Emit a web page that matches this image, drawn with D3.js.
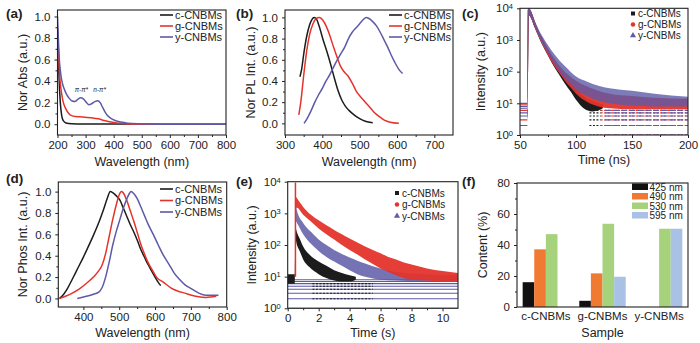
<!DOCTYPE html>
<html><head><meta charset="utf-8">
<script src="https://cdn.jsdelivr.net/npm/d3@7"></script>
<style>
body{margin:0;background:#fff;}
svg{display:block;}
</style></head><body>
<svg id="chart" width="700" height="343"></svg>
<script>
// ================= DATA =================
const seriesNames = ["c-CNBMs", "g-CNBMs", "y-CNBMs"];

// (a) absorbance  [wavelength nm, normalized abs]
const absC = [[200,0.86],[203,0.62],[206,0.4],[210,0.2],[215,0.08],[220,0.035],[230,0.012],[250,0.005],[300,0.003],[400,0.002],[800,0.0]];
const absG = [[200,0.9],[203,0.7],[206,0.52],[210,0.38],[215,0.28],[220,0.21],[230,0.14],[240,0.1],[250,0.08],[265,0.072],[290,0.068],[320,0.06],[345,0.05],[365,0.035],[385,0.022],[410,0.012],[440,0.005],[480,0.0],[800,0.0]];
const absY = [[200,1.0],[203,0.8],[206,0.62],[210,0.5],[215,0.41],[222,0.34],[232,0.28],[242,0.24],[252,0.215],[262,0.21],[272,0.23],[282,0.245],[292,0.235],[302,0.205],[312,0.18],[322,0.19],[333,0.21],[343,0.218],[352,0.2],[360,0.16],[368,0.12],[378,0.08],[390,0.055],[405,0.035],[425,0.02],[450,0.01],[500,0.004],[560,0.0],[800,0.0]];
const absNotes = [[285,"π-π*"],[350,"n-π*"]];

// (b) PL  [wavelength nm, normalized PL]
const plC = [[340,0.44],[345,0.52],[350,0.65],[358,0.82],[366,0.93],[372,0.98],[378,1.0],[385,0.98],[393,0.9],[402,0.79],[412,0.68],[422,0.56],[432,0.43],[442,0.31],[452,0.22],[462,0.16],[472,0.12],[485,0.08],[500,0.045],[515,0.02],[535,0.005]];
const plG = [[337,0.08],[343,0.22],[350,0.45],[358,0.68],[366,0.84],[375,0.94],[384,0.99],[392,1.0],[400,0.98],[410,0.92],[420,0.83],[430,0.72],[440,0.62],[450,0.53],[460,0.48],[470,0.44],[480,0.38],[490,0.31],[500,0.26],[510,0.22],[520,0.18],[530,0.14],[540,0.1],[552,0.065],[566,0.03],[582,0.01],[605,0.0]];
const plY = [[351,0.0],[360,0.05],[370,0.12],[380,0.2],[390,0.27],[400,0.33],[410,0.4],[420,0.46],[430,0.53],[440,0.6],[450,0.66],[460,0.72],[470,0.8],[480,0.86],[490,0.9],[500,0.94],[510,0.98],[517,1.0],[525,0.99],[535,0.96],[545,0.92],[555,0.86],[565,0.79],[575,0.72],[585,0.64],[595,0.57],[605,0.51],[615,0.47]];

// (c) TRPL decay clouds  [time ns, lower, upper]
const trC = [[56.6,3,10],[57,6,9000],[58,6000,10000],[60,4800,7800],[63,2500,4000],[66,1400,2200],[70,700,1100],[75,320,500],[80,150,240],[85,80,130],[90,42,72],[95,24,44],[100,13,28],[105,8,19],[110,6,14],[115,5.5,12],[120,6,10.5],[124,7,9]];
const trG = [[56.6,3,10],[57,6,9000],[58,6000,10000],[60,4800,7800],[63,2500,4000],[66,1400,2200],[70,700,1150],[75,330,540],[80,160,280],[85,90,160],[90,52,100],[95,32,70],[100,20,52],[110,11,34],[120,8,25],[130,7,20],[150,6.5,17],[170,6.5,15],[200,6.5,14]];
const trY = [[56.6,3,10],[57,6,9000],[58,6000,10000],[60,4800,8000],[63,2600,4200],[66,1500,2400],[70,750,1300],[75,380,680],[80,190,380],[85,105,230],[90,62,150],[95,40,100],[100,27,70],[110,17,48],[120,12,36],[130,10,30],[140,9,27],[150,8.5,25],[170,8,20],[200,8,16]];
const trPreLevels = [2,3,4,5,6,7,8,9,10];
const trLevels = [1,2,3,4,5,6];
const trLevelStart = [112,122,126];   // time where each series settles on count levels

// (d) phosphorescence  [wavelength nm, normalized]
const phC = [[333,0.0],[345,0.04],[355,0.09],[369,0.18],[384,0.28],[399,0.38],[413,0.48],[428,0.59],[443,0.71],[457,0.84],[467,0.94],[475,1.0],[482,0.99],[492,0.96],[502,0.92],[511,0.85],[521,0.77],[531,0.69],[541,0.62],[551,0.54],[560,0.46],[570,0.39],[580,0.32],[590,0.26],[600,0.2],[609,0.15],[616,0.12]];
const phG = [[333,0.0],[350,0.02],[369,0.05],[389,0.09],[408,0.14],[428,0.2],[443,0.26],[452,0.31],[462,0.42],[472,0.58],[482,0.74],[492,0.88],[500,0.97],[506,1.0],[513,0.98],[521,0.92],[531,0.82],[541,0.72],[551,0.61],[560,0.51],[570,0.42],[580,0.34],[590,0.28],[604,0.2],[624,0.15],[644,0.1],[663,0.07],[683,0.05],[702,0.03],[722,0.015],[742,0.01],[771,0.02]];
const phY = [[383,0.0],[408,0.02],[428,0.04],[443,0.06],[452,0.1],[462,0.2],[472,0.34],[482,0.5],[492,0.63],[502,0.74],[511,0.84],[521,0.93],[528,0.98],[533,1.0],[541,0.98],[551,0.93],[560,0.86],[570,0.78],[580,0.7],[595,0.6],[609,0.5],[624,0.4],[639,0.32],[653,0.24],[668,0.18],[683,0.13],[702,0.09],[722,0.05],[742,0.03],[777,0.03]];

// (e) phosphorescence decay clouds [time s, lower, upper]
const pdC = [[0,6,12],[0.45,6,12],[0.5,150,350],[0.6,100,250],[0.8,60,150],[1.0,35,90],[1.4,20,50],[2,12,30],[2.5,9,22],[3,7.5,16],[3.5,7,13],[4,7,11],[4.4,8,10]];
const pdG = [[0.5,1500,3500],[0.6,1500,3000],[1.0,900,1600],[1.5,550,900],[2,330,600],[2.5,220,420],[3,150,300],[3.5,100,220],[4,70,160],[4.5,50,120],[5,35,90],[5.5,25,70],[6,18,55],[6.5,14,42],[7,11,35],[7.5,9,28],[8,8,24],[9,7.5,18],[10,7,15],[11,7,13]];
const pdY = [[0.5,600,2000],[0.6,500,1200],[1.0,220,500],[1.5,110,260],[2,65,150],[2.5,42,100],[3,30,70],[3.5,22,52],[4,16,40],[4.5,12,32],[5,10,26],[6,8,18],[7,7.5,14],[9,7,12],[11,7,11]];
const pdSpike = [[0.5,10],[0.5,9500]];
const pdLevels = [1,2,3,4,5,6,7,8];
const pdBlackLevels = [2,3,4,5,6];
const pdBlackRange = [1.6,5.5];

// (f) content bars
const samples = ["c-CNBMs","g-CNBMs","y-CNBMs"];
const bands = ["425 nm","490 nm","530 nm","595 nm"];
const content425 = [16, 4, 0];
const content490 = [37.2, 21.7, 0];
const content530 = [47, 53.7, 50.5];
const content595 = [0, 19.5, 50.5];

// tick values
const ticksA_x = [200,300,400,500,600,700,800];
const ticksLin_y = [0,0.2,0.4,0.6,0.8,1.0];
const ticksB_x = [300,400,500,600,700];
const ticksC_x = [50,100,150,200];
const ticksLog = [1,10,100,1000,10000];
const ticksD_x = [400,500,600,700,800];
const ticksE_x = [0,2,4,6,8,10];
const ticksF_y = [0,20,40,60,80];

// ================= DRAWING =================
const svg = d3.select("#chart");
const FONT = '"Liberation Sans", Arial, Helvetica, sans-serif';
const COL = ["#1c1c1c", "#e3342c", "#5d5aa6"];
const BARCOL = ["#111111", "#f07a32", "#a7d27c", "#a9c1e4"];
const INK = "#222";
const TICKFS = 11.5;
let clipId = 0;

function styleAxis(s, fs) {
  s.select(".domain").remove();
  s.selectAll("text").attr("font-family", FONT).attr("font-size", fs).attr("fill", INK);
  s.selectAll("line").attr("stroke", INK);
}
function minorOf(ticks) {
  const out = [];
  for (let i = 0; i < ticks.length - 1; i++) out.push((ticks[i] + ticks[i + 1]) / 2);
  return out;
}
function clipFor(x, y) {
  const id = "clip" + (clipId++);
  const [xl, xr] = x.range(), [yb, yt] = y.range();
  svg.append("clipPath").attr("id", id).append("rect")
    .attr("x", xl).attr("y", yt).attr("width", xr - xl).attr("height", yb - yt);
  return "url(#" + id + ")";
}
function axes(p) {
  const g = svg.append("g");
  const [xl, xr] = p.x.range(), [yb, yt] = p.y.range();
  if (p.xMinor) styleAxis(g.append("g").attr("transform", `translate(0,${yb})`)
      .call(d3.axisBottom(p.x).tickValues(p.xMinor).tickSize(2).tickFormat("")), TICKFS);
  if (p.yMinor) styleAxis(g.append("g").attr("transform", `translate(${xl},0)`)
      .call(d3.axisLeft(p.y).tickValues(p.yMinor).tickSize(2).tickFormat("")), TICKFS);
  const xa = g.append("g").attr("transform", `translate(0,${yb})`);
  if (p.band) xa.call(d3.axisBottom(p.x).tickSize(0).tickPadding(5));
  else xa.call(d3.axisBottom(p.x).tickValues(p.xTicks).tickSize(3).tickPadding(3).tickFormat(d => d));
  styleAxis(xa, TICKFS);
  const ya = g.append("g").attr("transform", `translate(${xl},0)`)
    .call(d3.axisLeft(p.y).tickValues(p.yTicks).tickSize(3).tickPadding(4)
      .tickFormat(p.log ? () => "" : (p.yFmt || (d => d))));
  styleAxis(ya, TICKFS);
  if (p.log) {
    ya.selectAll(".tick text").each(function (d) {
      const t = d3.select(this);
      t.append("tspan").text("10");
      t.append("tspan").attr("dy", "-0.45em").attr("font-size", "7.5px").text(Math.round(Math.log10(d)));
    });
  }
  g.append("rect").attr("x", xl).attr("y", yt).attr("width", xr - xl).attr("height", yb - yt)
    .attr("fill", "none").attr("stroke", INK).attr("stroke-width", 1.1);
  g.append("text").attr("x", (xl + xr) / 2).attr("y", p.xTitleY).attr("text-anchor", "middle")
    .attr("font-family", FONT).attr("font-size", 12.5).attr("fill", INK).text(p.xTitle);
  g.append("text").attr("transform", `translate(${p.yTitleX},${(yb + yt) / 2}) rotate(-90)`)
    .attr("text-anchor", "middle").attr("font-family", FONT).attr("font-size", 12.5)
    .attr("fill", INK).text(p.yTitle);
  g.append("text").attr("x", p.labelX).attr("y", p.labelY).attr("font-family", FONT)
    .attr("font-size", 13.5).attr("font-weight", "bold").attr("fill", INK).text(p.label);
}
function lineLegend(x, y, dy) {
  const g = svg.append("g");
  seriesNames.forEach((n, i) => {
    g.append("line").attr("x1", x).attr("x2", x + 13).attr("y1", y + i * dy).attr("y2", y + i * dy)
      .attr("stroke", COL[i]).attr("stroke-width", 1.6);
    g.append("text").attr("x", x + 15).attr("y", y + i * dy).attr("dy", "0.35em")
      .attr("font-family", FONT).attr("font-size", 11).attr("fill", INK).text(n);
  });
}
function markerLegend(x, y, dy) {
  const g = svg.append("g");
  const sym = [d3.symbolSquare, d3.symbolCircle, d3.symbolTriangle];
  seriesNames.forEach((n, i) => {
    g.append("path").attr("d", d3.symbol(sym[i], 16)()).attr("transform", `translate(${x},${y + i * dy})`)
      .attr("fill", COL[i]);
    g.append("text").attr("x", x + 5).attr("y", y + i * dy).attr("dy", "0.35em")
      .attr("font-family", FONT).attr("font-size", 10).attr("fill", INK).text(n);
  });
}
function curves(x, y, list, clip) {
  const line = d3.line().x(d => x(d[0])).y(d => y(d[1])).curve(d3.curveMonotoneX);
  const g = svg.append("g").attr("clip-path", clip);
  list.forEach((data, i) => g.append("path").attr("d", line(data)).attr("fill", "none")
    .attr("stroke", COL[i]).attr("stroke-width", 1.5));
}
function cloud(g, x, y, data, color, op) {
  const area = d3.area().x(d => x(d[0])).y0(d => y(d[1])).y1(d => y(d[2])).curve(d3.curveMonotoneX);
  g.append("path").attr("d", area(data)).attr("fill", color).attr("fill-opacity", op);
}
function hline(g, x, y, t0, t1, v, color, dash) {
  g.append("line").attr("x1", x(t0)).attr("x2", x(t1)).attr("y1", y(v)).attr("y2", y(v))
    .attr("stroke", color).attr("stroke-width", 1.1).attr("stroke-dasharray", dash || null);
}

// ---- (a)
{
  const x = d3.scaleLinear().domain([200, 800]).range([57.5, 226]);
  const y = d3.scaleLinear().domain([-0.1, 1.06]).range([135, 10]);
  curves(x, y, [absC, absG, absY], clipFor(x, y));
  absNotes.forEach(n => svg.append("text").attr("x", x(n[0])).attr("y", 92).attr("text-anchor", "middle")
    .attr("font-family", FONT).attr("font-size", 6.5).attr("font-style", "italic").attr("fill", INK).text(n[1]));
  axes({x, y, xTicks: ticksA_x, yTicks: ticksLin_y, xMinor: minorOf(ticksA_x), yMinor: [0.1, 0.3, 0.5, 0.7, 0.9],
    yFmt: d3.format(".1f"), xTitle: "Wavelength (nm)", yTitle: "Nor Abs (a.u.)", xTitleY: 166, yTitleX: 27,
    label: "(a)", labelX: 6, labelY: 18});
  lineLegend(160, 15, 11);
}
// ---- (b)
{
  const x = d3.scaleLinear().domain([300, 750]).range([285, 453]);
  const y = d3.scaleLinear().domain([-0.11, 1.07]).range([135, 10]);
  curves(x, y, [plC, plG, plY], clipFor(x, y));
  axes({x, y, xTicks: ticksB_x, yTicks: ticksLin_y, xMinor: [350, 450, 550, 650], yMinor: [0.1, 0.3, 0.5, 0.7, 0.9],
    yFmt: d3.format(".1f"), xTitle: "Wavelength (nm)", yTitle: "Nor PL Int. (a.u.)", xTitleY: 166, yTitleX: 255,
    label: "(b)", labelX: 236, labelY: 18});
  lineLegend(389, 15, 11);
}
// ---- (c)
{
  const x = d3.scaleLinear().domain([50, 200]).range([520, 688]);
  const y = d3.scaleLog().domain([1, 10000]).range([135, 8.3]);
  const g = svg.append("g").attr("clip-path", clipFor(x, y));
  trPreLevels.forEach((l, k) => hline(g, x, y, 50, 56.6, l, COL[k % 3 === 1 ? 1 : 2]));
  trLevels.forEach(l => {
    hline(g, x, y, trLevelStart[0], trLevelStart[1], l, COL[0], "2,1.5");
    hline(g, x, y, trLevelStart[1], 200, l, COL[1], "2,1.5");
    hline(g, x, y, trLevelStart[2], 200, l, COL[2], "6,2");
  });
  cloud(g, x, y, trC, COL[0], 1);
  cloud(g, x, y, trG, COL[1], 0.95);
  cloud(g, x, y, trY, COL[2], 0.8);
  axes({x, y, log: true, xTicks: ticksC_x, yTicks: ticksLog, xMinor: [75, 125, 175],
    xTitle: "Time (ns)", yTitle: "Intensity (a.u.)", xTitleY: 164, yTitleX: 485,
    label: "(c)", labelX: 462, labelY: 18});
  markerLegend(633, 13.5, 11);
}
// ---- (d)
{
  const x = d3.scaleLinear().domain([330, 800]).range([58.3, 226.7]);
  const y = d3.scaleLinear().domain([-0.08, 1.09]).range([307, 182]);
  curves(x, y, [phC, phG, phY], clipFor(x, y));
  axes({x, y, xTicks: ticksD_x, yTicks: ticksLin_y, xMinor: [450, 550, 650, 750], yMinor: [0.1, 0.3, 0.5, 0.7, 0.9],
    yFmt: d3.format(".1f"), xTitle: "Wavelength (nm)", yTitle: "Nor Phos Int. (a.u.)", xTitleY: 337, yTitleX: 27,
    label: "(d)", labelX: 6, labelY: 183});
  lineLegend(160, 189, 11.5);
}
// ---- (e)
{
  const x = d3.scaleLinear().domain([0, 11]).range([287.7, 458]);
  const y = d3.scaleLog().domain([1, 10000]).range([308.3, 181.7]);
  const g = svg.append("g").attr("clip-path", clipFor(x, y));
  pdLevels.forEach(l => hline(g, x, y, 0, 11, l, COL[2]));
  pdBlackLevels.forEach(l => hline(g, x, y, pdBlackRange[0], pdBlackRange[1], l, COL[0], "2,1.5"));
  cloud(g, x, y, pdC, COL[0], 1);
  cloud(g, x, y, pdY, COL[2], 0.85);
  cloud(g, x, y, pdG, COL[1], 0.95);
  g.append("path").attr("d", d3.line().x(d => x(d[0])).y(d => y(d[1]))(pdSpike))
    .attr("stroke", COL[1]).attr("stroke-width", 1.5);
  axes({x, y, log: true, xTicks: ticksE_x, yTicks: ticksLog, xMinor: [1, 3, 5, 7, 9],
    xTitle: "Time (s)", yTitle: "Intensity (a.u.)", xTitleY: 337, yTitleX: 256,
    label: "(e)", labelX: 236, labelY: 186});
  markerLegend(397, 193, 11.5);
}
// ---- (f)
{
  const x = d3.scaleBand().domain(samples).range([517, 688]).paddingInner(0.18).paddingOuter(0.1);
  const xs = d3.scaleBand().domain(bands).range([0, x.bandwidth()]);
  const y = d3.scaleLinear().domain([0, 80]).range([307, 183]);
  const vals = [content425, content490, content530, content595];
  const g = svg.append("g");
  samples.forEach((s, si) => bands.forEach((b, bi) => {
    const v = vals[bi][si];
    if (v > 0) g.append("rect").attr("x", x(s) + xs(b)).attr("width", xs.bandwidth())
      .attr("y", y(v)).attr("height", y(0) - y(v)).attr("fill", BARCOL[bi]);
  }));
  axes({x, y, band: true, yTicks: ticksF_y, yMinor: [10, 30, 50, 70],
    xTitle: "Sample", yTitle: "Content (%)", xTitleY: 337, yTitleX: 487,
    label: "(f)", labelX: 462, labelY: 186});
  const lg = svg.append("g");
  bands.forEach((b, i) => {
    lg.append("rect").attr("x", 632).attr("y", 183.5 + i * 9.5).attr("width", 16).attr("height", 6.5).attr("fill", BARCOL[i]);
    lg.append("text").attr("x", 649.5).attr("y", 187 + i * 9.5).attr("dy", "0.35em").attr("font-family", FONT)
      .attr("font-size", 10).attr("fill", INK).text(b);
  });
}
</script>
</body></html>
